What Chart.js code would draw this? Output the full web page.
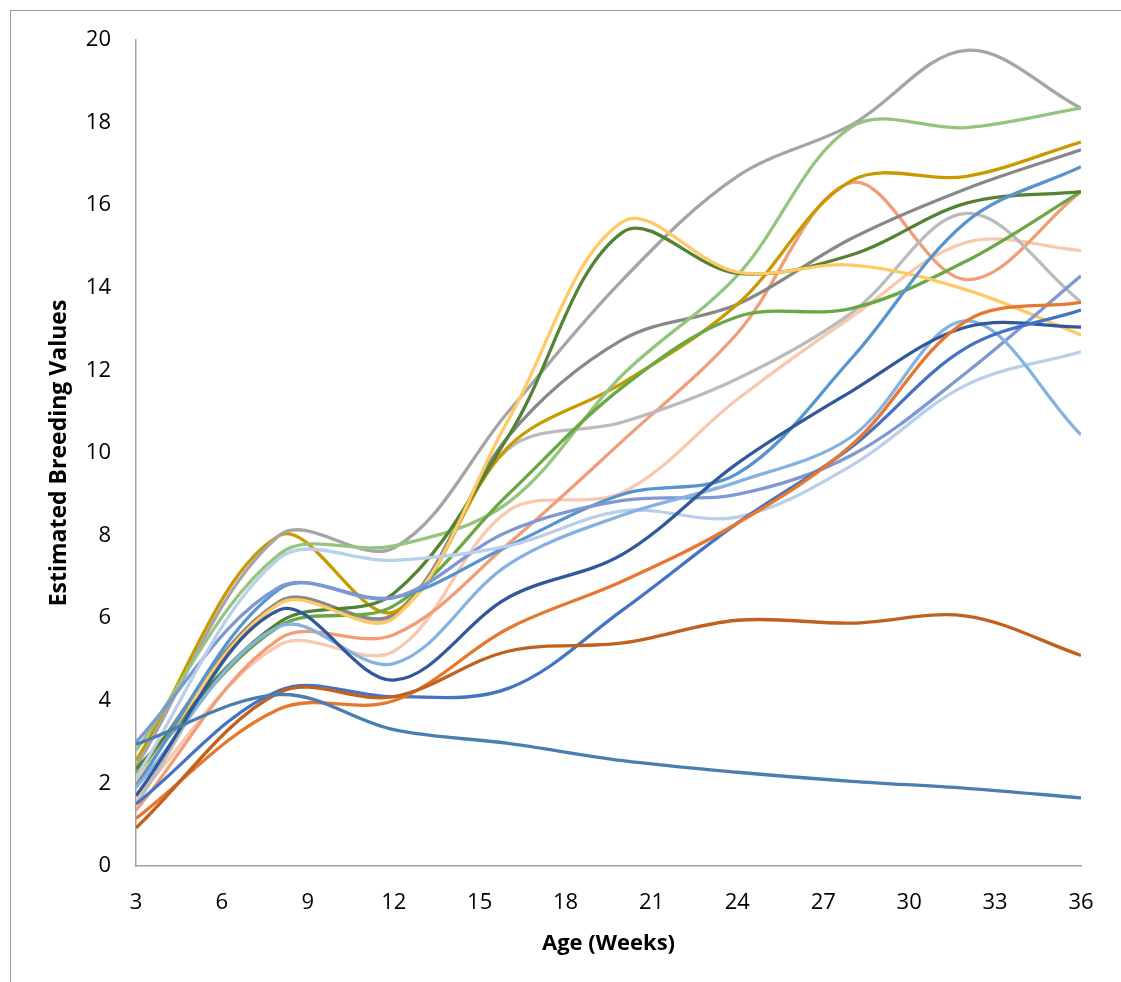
<!DOCTYPE html>
<html>
<head>
<meta charset="utf-8">
<script src="https://cdn.jsdelivr.net/npm/chart.js@4.4.1/dist/chart.umd.min.js"></script>
<style>
html, body { margin: 0; padding: 0; background: #fff; overflow: hidden; }
#frame { position: absolute; left: 10px; top: 10px; width: 1130px; height: 1000px; border: 1px solid #9a9a9a; box-sizing: border-box; }
#wrap { position: absolute; left: 0; top: 0; width: 1121px; height: 982px; }
</style>
</head>
<body>
<div id="frame"></div>
<div id="wrap"><canvas id="chart" width="1121" height="982"></canvas></div>
<script>
// weeks where the breeding values were estimated
var weeks = [3, 8, 12, 16, 20, 24, 28, 32, 36]
var xTicks = [3, 6, 9, 12, 15, 18, 21, 24, 27, 30, 33, 36]
var yTicks = [0, 2, 4, 6, 8, 10, 12, 14, 16, 18, 20]

var steelBlue  = [2.95, 4.15, 3.3, 2.97, 2.55, 2.27, 2.05, 1.88, 1.65]
var brown      = [0.92, 4.2, 4.1, 5.2, 5.4, 5.95, 5.88, 6.05, 5.1]
var orange     = [1.15, 3.8, 4.0, 5.75, 6.9, 8.3, 10.2, 13.2, 13.65]
var blue       = [1.5, 4.25, 4.1, 4.3, 6.2, 8.3, 10.15, 12.55, 13.46]
var darkBlue   = [1.7, 6.2, 4.5, 6.5, 7.55, 9.75, 11.5, 13.05, 13.05]
var lightBlue  = [1.9, 5.8, 4.9, 7.3, 8.5, 9.3, 10.4, 13.2, 10.44]
var paleBlue   = [2.15, 7.45, 7.4, 7.75, 8.6, 8.45, 9.7, 11.65, 12.45]
var periwinkle = [3.0, 6.75, 6.5, 8.1, 8.85, 9.0, 9.95, 11.95, 14.29]
var skyBlue    = [1.95, 6.7, 6.5, 7.75, 9.0, 9.5, 12.3, 15.6, 16.93]
var yellow     = [2.05, 6.35, 6.0, 10.8, 15.6, 14.38, 14.55, 13.95, 12.86]
var darkGreen  = [2.35, 5.9, 6.6, 10.4, 15.35, 14.35, 14.8, 16.05, 16.33]
var green      = [2.25, 5.8, 6.3, 9.0, 11.6, 13.3, 13.5, 14.65, 16.33]
var lightGreen = [2.8, 7.55, 7.75, 8.8, 11.9, 14.3, 17.9, 17.88, 18.35]
var gray       = [2.4, 8.0, 7.7, 11.0, 14.2, 16.7, 17.95, 19.75, 18.35]
var gold       = [2.55, 8.0, 6.15, 10.15, 11.7, 13.6, 16.6, 16.7, 17.53]
var darkGray   = [2.2, 6.4, 6.1, 10.4, 12.75, 13.6, 15.2, 16.4, 17.34]
var lightGray  = [1.5, 6.4, 6.05, 10.1, 10.75, 11.8, 13.4, 15.8, 13.66]
var salmon     = [1.35, 5.5, 5.6, 7.8, 10.3, 12.9, 16.55, 14.2, 16.33]
var peach      = [1.65, 5.35, 5.2, 8.6, 9.05, 11.3, 13.3, 15.1, 14.9]

var series = [
  [steelBlue, "#4a7eb0"], [brown, "#c0611f"], [orange, "#e8772e"], [blue, "#4472c4"],
  [darkBlue, "#30589a"], [lightBlue, "#85b2e0"], [paleBlue, "#bacfea"], [periwinkle, "#7f97d3"],
  [skyBlue, "#5694cf"], [yellow, "#ffc966"], [darkGreen, "#548235"], [green, "#6aa745"],
  [lightGreen, "#95c47e"], [gray, "#a5a5a5"], [gold, "#c89a00"], [darkGray, "#888888"],
  [lightGray, "#bbbbbb"], [salmon, "#f19e78"], [peach, "#f8c8b0"]
]

var datasets = series.map(function (s, i) {
  return {
    label: "Series " + (i + 1),
    data: weeks.map(function (w, j) { return { x: w, y: s[0][j] } }),
    borderColor: s[1],
    borderWidth: 3.3,
    pointRadius: 0,
    fill: false,
    tension: 0.35
  }
})

var tickFont = { family: "'Open Sans', sans-serif", size: 22 }

new Chart(document.getElementById("chart"), {
  type: 'line',
  data: { datasets: datasets },
  options: {
    responsive: false,
    animation: false,
    layout: { padding: { left: 0, top: 40, right: 40, bottom: 0 } },
    plugins: { legend: { display: false }, tooltip: { enabled: false } },
    scales: {
      x: {
        type: 'linear',
        min: 3, max: 36,
        afterBuildTicks: function (scale) { scale.ticks = xTicks.map(function (v) { return { value: v } }) },
        afterFit: function (scale) { scale.height = 116 },
        grid: { display: false, drawTicks: false },
        border: { display: true, color: "#a0a0a0", width: 1.5 },
        ticks: { font: tickFont, color: "#000", padding: 24, maxRotation: 0, autoSkip: false },
        title: { display: true, text: "Age (Weeks)", font: { family: "'Open Sans', sans-serif", size: 22, weight: "bold" }, color: "#000", padding: { top: 0, bottom: 25 } }
      },
      y: {
        min: 0, max: 20,
        afterBuildTicks: function (scale) { scale.ticks = yTicks.map(function (v) { return { value: v } }) },
        afterFit: function (scale) { scale.width = 136 },
        grid: { display: false, drawTicks: false },
        border: { display: true, color: "#a0a0a0", width: 1.5 },
        ticks: { font: tickFont, color: "#000", padding: 25, autoSkip: false },
        title: { display: true, text: "Estimated Breeding Values", font: { family: "'Open Sans', sans-serif", size: 23, weight: "bold" }, color: "#000", padding: { top: 46, bottom: 0 } }
      }
    }
  }
})
</script>
</body>
</html>
